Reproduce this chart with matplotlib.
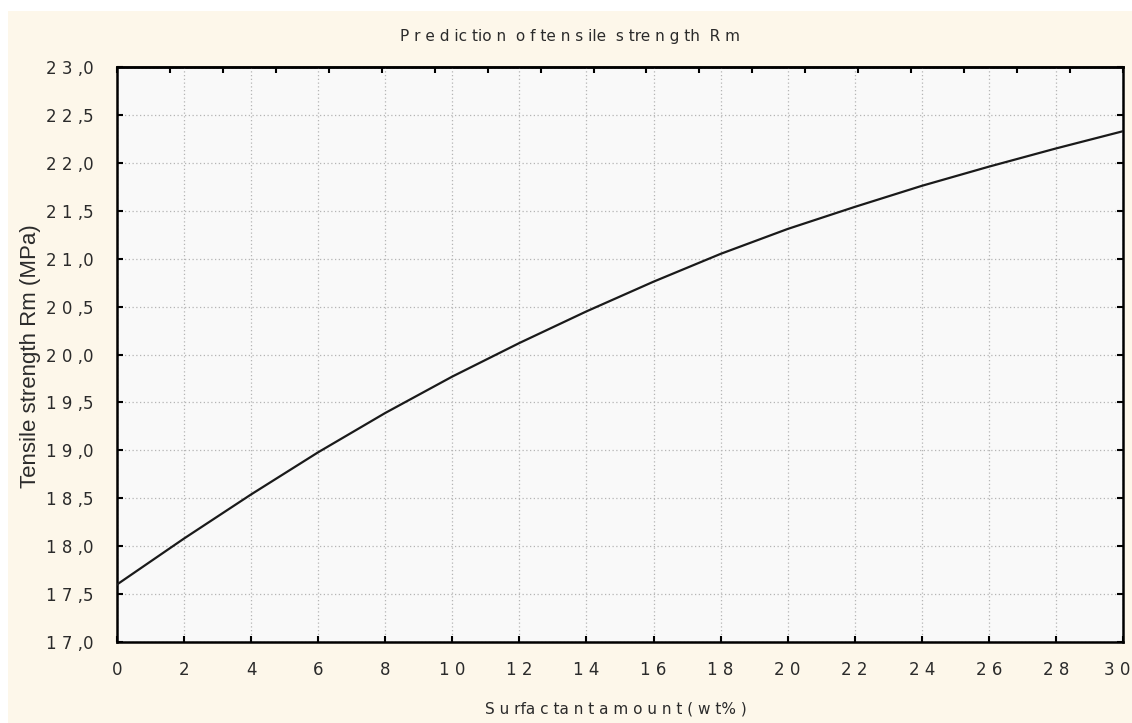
import numpy as np
import matplotlib
matplotlib.use("Agg")
import matplotlib.pyplot as plt
from matplotlib import font_manager
from matplotlib.patches import Rectangle
from matplotlib.transforms import ScaledTranslation

surfactant = [0, 2, 4, 6, 8, 10, 12, 14, 16, 18, 20, 22, 24, 26, 28, 30]
rm = [17.60, 18.08, 18.54, 18.98, 19.39, 19.77, 20.12, 20.45, 20.76, 21.05,
      21.31, 21.54, 21.76, 21.96, 22.15, 22.33]

y_ticks = [17.0, 17.5, 18.0, 18.5, 19.0, 19.5, 20.0, 20.5, 21.0, 21.5, 22.0, 22.5, 23.0]
x_ticks = [0, 2, 4, 6, 8, 10, 12, 14, 16, 18, 20, 22, 24, 26, 28, 30]

names = {f.name for f in font_manager.fontManager.ttflist}
narrow = "Liberation Sans Narrow" if "Liberation Sans Narrow" in names else "DejaVu Sans"

def spaced_num(v, dec=True):
    if dec:
        a, b = f"{v:.1f}".split(".")
        return " ".join(a) + " ," + b
    return " ".join(str(int(v)))

fig = plt.figure(figsize=(11.32, 7.23), dpi=100)
fig.patch.set_facecolor("white")
fig.patches.append(Rectangle((8 / 1132, 0), 1, 1 - 11 / 723, transform=fig.transFigure,
                             facecolor="#fdf7ea", edgecolor="none", zorder=-10))

ax = fig.add_axes([117 / 1132, 81 / 723, 1006 / 1132, 575 / 723])
ax.set_facecolor("#f9f9f9")
ax.plot(surfactant, rm, color="#1a1a1a", lw=1.6, zorder=3)

ax.set_xlim(0, 30)
ax.set_ylim(17, 23)
ax.set_xticks(x_ticks)
ax.set_yticks(y_ticks)
ax.set_xticklabels([spaced_num(v, False) for v in x_ticks], family=narrow,
                   fontsize=12, color="#2b2b2b")
ax.set_yticklabels([spaced_num(v) for v in y_ticks], family=narrow,
                   fontsize=12, color="#2b2b2b")
ax.tick_params(direction="in", length=4, width=1.5, pad=14, top=False, right=True)
ax.tick_params(axis="y", pad=17)

# keep the last x label inside the picture
last = ax.get_xticklabels()[-1]
last.set_transform(last.get_transform() + ScaledTranslation(-0.06, 0, fig.dpi_scale_trans))

# the odd top ticks
top = ax.secondary_xaxis("top")
top.set_xticks(np.linspace(0, 30, 20))
top.set_xticklabels([])
top.tick_params(direction="in", length=4, width=1.5)
top.spines["top"].set_linewidth(1.8)

for s in ax.spines.values():
    s.set_linewidth(1.8)
    s.set_color("black")

ax.grid(True, color="#b5b5b5", linestyle=(0, (1, 2)), lw=0.9)

fig.text(570 / 1132, 1 - 37 / 723, "P r e d ic tio n  o f te n s ile  s tre n g th  R m",
         ha="center", va="center", family=narrow, fontsize=11, color="#2b2b2b")
fig.text(616 / 1132, 1 - 709 / 723, "S u rfa c ta n t a m o u n t ( w t% )",
         ha="center", va="center", family=narrow, fontsize=11, color="#2b2b2b")
fig.text(31 / 1132, 1 - 356 / 723, "Tensile strength Rm (MPa)", rotation=90,
         ha="center", va="center", family=["Liberation Sans", "DejaVu Sans"],
         fontsize=16, color="#2b2b2b")

fig.savefig("out.png", dpi=100)
